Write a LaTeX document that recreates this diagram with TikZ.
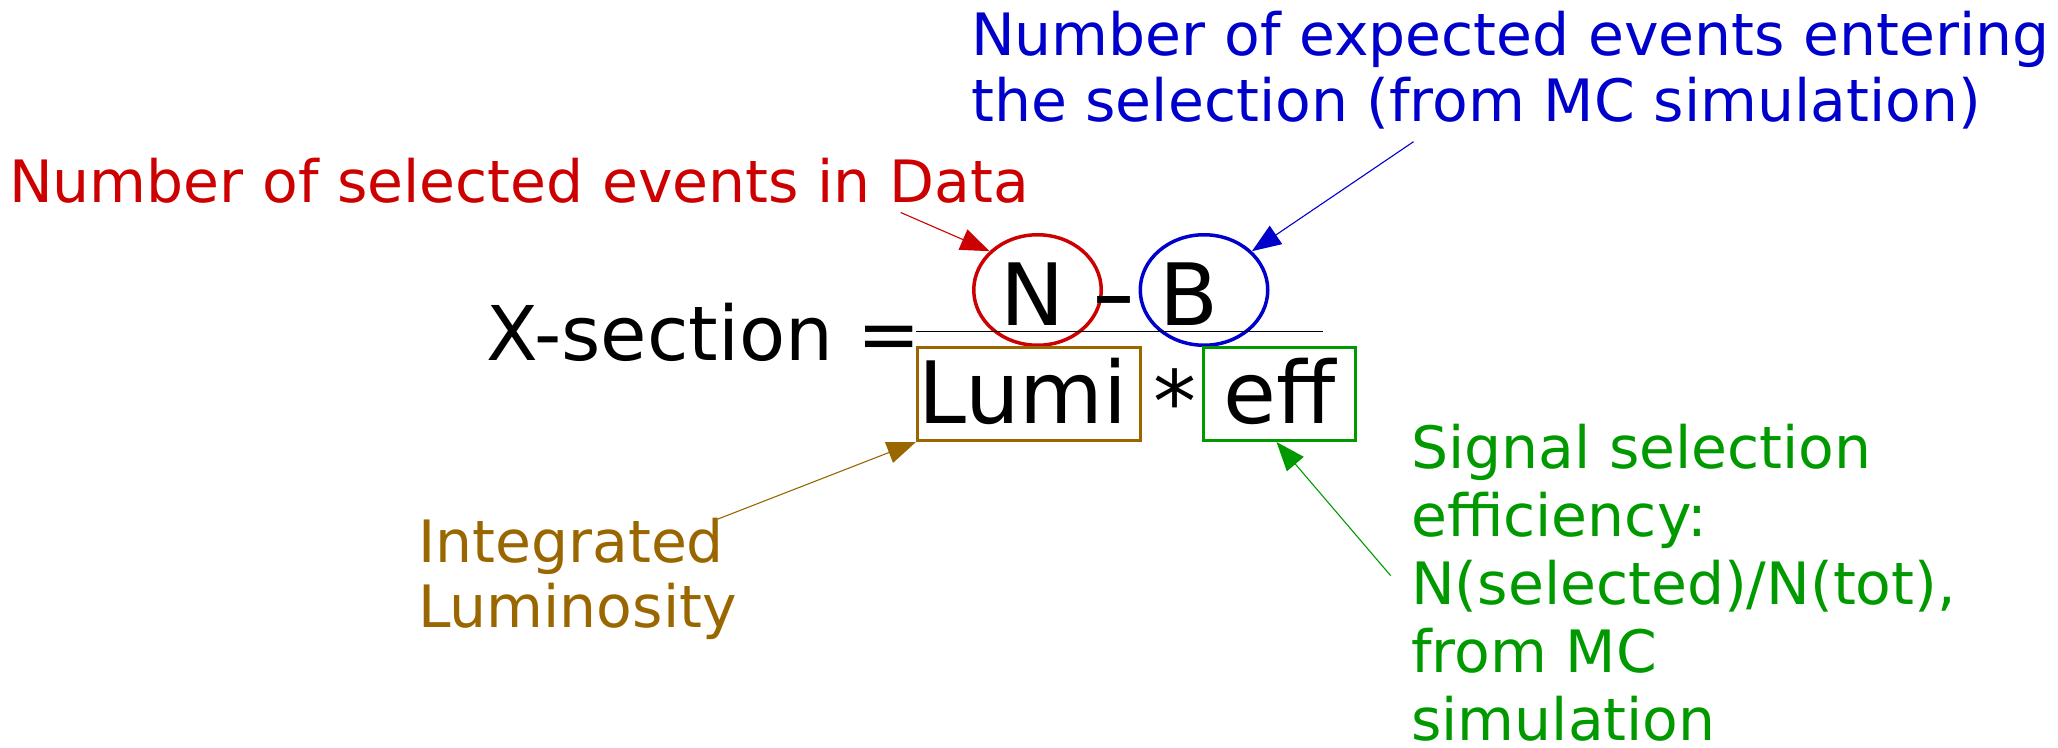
\documentclass[tikz,border=0pt]{standalone}
\usepackage{fontspec}
\setmainfont{DejaVu Sans}
\usetikzlibrary{arrows.meta,shapes.geometric}
\definecolor{cred}{HTML}{CC0000}
\definecolor{cblue}{HTML}{0000CC}
\definecolor{cgreen}{HTML}{009900}
\definecolor{cbrown}{HTML}{996600}
\begin{document}
\begin{tikzpicture}[x=1pt,y=-1pt,
  lbl/.style={inner sep=0pt, anchor=base west, align=left, font=\fontsize{58.4}{66}\selectfont},
  big/.style={inner sep=0pt, anchor=base west, font=\fontsize{86}{90}\selectfont},
  ell/.style={ellipse, draw, line width=3.5pt, minimum width=127.5pt, minimum height=110.5pt, inner sep=0pt},
  box/.style={rectangle, draw, line width=3.4pt, minimum height=92.8pt, inner sep=0pt},
  ptr/.style={line width=1.1pt, -{Triangle[length=29pt,width=22pt]}},
]
\useasboundingbox (0,0) rectangle (2058,747);

\node[lbl, text=cred] (redlbl) at (9,202) {Number of selected events in Data};
\node[lbl, text=cblue] (bluelbl) at (971,121) {Number of expected events entering\\the selection (from MC simulation)};
\node[lbl, text=cgreen, font=\fontsize{58.4}{68}\selectfont] (greenlbl) at (1411,740) {Signal selection\\efficiency:\\N(selected)/N(tot),\\from MC\\simulation};
\node[lbl, text=cbrown, font=\fontsize{58.4}{65}\selectfont] (brownlbl) at (418,627) {Integrated\\Luminosity};

\node[inner sep=0pt, anchor=base west, font=\fontsize{75.5}{80}\selectfont] (xsec) at (486,360) {X-section =};

\node[ell, draw=cred] (nell) at (1037.5,290) {};
\node[ell, draw=cblue] (bell) at (1204,290) {};
\node[big] (N) at (1000,325) {N};
\node[big, anchor=base, xscale=1.45] (minus) at (1114,323) {-};
\node[big] (B) at (1159.6,325) {B};

\coordinate (fracL) at (916,331.7);
\coordinate (fracR) at (1323,331.7);
\draw[line width=1.2pt] (fracL) -- (fracR);

\node[box, draw=cbrown, minimum width=222.6pt] (lumi) at (1029,393.9) {};
\node[box, draw=cgreen, minimum width=151.6pt] (eff) at (1279.5,393.9) {};
\node[big] (lumitxt) at (918.7,423) {Lumi};
\node[big, anchor=base] (star) at (1175,432) {*};
\node[big] (efftxt) at (1223,423) {eff};

\coordinate (redstart) at (900.7,212.5);
\coordinate (bluestart) at (1413.5,141.7);
\coordinate (brownstart) at (718,519);
\coordinate (greenstart) at (1390.7,575.7);

\draw[ptr, cred] (redstart) -- (nell.141);
\draw[ptr, cblue] (bluestart) -- (bell.39);
\draw[ptr, cbrown] (brownstart) -- (lumi.south west);
\draw[ptr, cgreen] (greenstart) -- ([xshift=-3pt]eff.south);
\end{tikzpicture}
\end{document}
